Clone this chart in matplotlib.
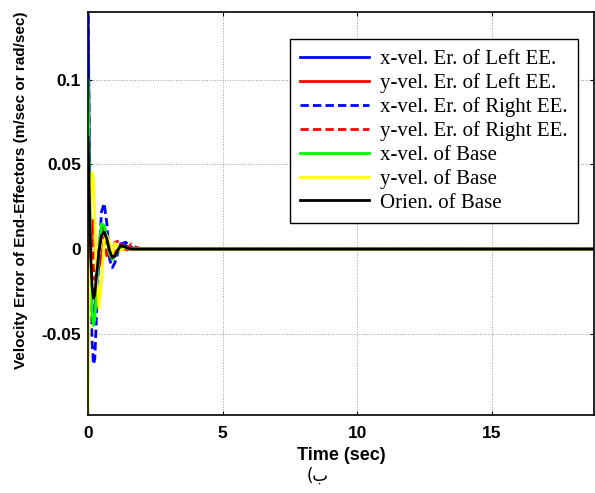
import numpy as np
import matplotlib
matplotlib.use("Agg")
import matplotlib.pyplot as plt

# time samples of the transient (sec); after ~2 s everything sits at zero
t = [0, 0.05, 0.1, 0.15, 0.2, 0.25, 0.3, 0.4, 0.5, 0.6, 0.7, 0.8, 0.9, 1.0,
     1.2, 1.4, 1.6, 1.8, 2.0, 18.8]

x_left = [0.145, 0.05, -0.015, -0.035, -0.04, -0.036, -0.025, -0.002, 0.012, 0.013,
          0.007, -0.003, -0.006, -0.004, 0.002, 0.002, 0, 0, 0, 0]
y_left = [0, -0.012, 0.0, 0.015, 0.017, 0.008, -0.006, -0.011, -0.004, 0.005,
          0.005, 0.0, -0.003, -0.002, 0.001, 0, 0, 0, 0, 0]
x_right = [0.145, 0.06, -0.02, -0.055, -0.068, -0.065, -0.045, -0.005, 0.022, 0.027,
           0.015, -0.006, -0.011, -0.008, 0.003, 0.004, 0.001, 0, 0, 0]
y_right = [0, 0.01, 0.014, 0.005, -0.01, -0.018, -0.015, 0.002, 0.012, 0.006,
           -0.004, -0.006, -0.002, 0.004, 0.005, -0.002, 0.003, 0.001, 0, 0]
x_base = [0.1, 0.04, -0.015, -0.038, -0.045, -0.042, -0.028, -0.002, 0.015, 0.014,
          0.006, -0.003, -0.006, -0.004, 0.001, 0.001, 0, 0, 0, 0]
y_base = [-0.097, -0.02, 0.03, 0.045, 0.042, 0.02, -0.01, -0.035, -0.02, 0.005,
          0.008, 0.004, -0.003, 0.0035, -0.001, 0.001, 0, 0, 0, 0]
orien = [0.066, 0.03, -0.005, -0.022, -0.029, -0.027, -0.018, -0.002, 0.008, 0.010,
         0.006, -0.001, -0.005, -0.004, 0.002, 0.001, 0, 0, 0, 0]

labels = ["x-vel. Er. of Left EE.", "y-vel. Er. of Left EE.",
          "x-vel. Er. of Right EE.", "y-vel. Er. of Right EE.",
          "x-vel. of Base", "y-vel. of Base", "Orien. of Base"]

fig = plt.figure(figsize=(5.95, 4.93), dpi=100)
ax = fig.add_axes([0.148, 0.158, 0.85, 0.818])

ax.plot(t, x_left, color=(0, 0, 1), lw=2, label=labels[0])
ax.plot(t, y_left, color=(1, 0, 0), lw=2, label=labels[1])
ax.plot(t, x_right, color=(0, 0, 1), lw=2, ls=(0, (3, 1.5)), label=labels[2])
ax.plot(t, y_right, color=(1, 0, 0), lw=2, ls=(0, (3, 1.5)), label=labels[3])
ax.plot(t, x_base, color=(0, 1, 0), lw=2, label=labels[4])
ax.plot(t, y_base, color=(1, 1, 0), lw=2, label=labels[5])
ax.plot(t, orien, color="black", lw=2, label=labels[6])

ax.set_xlim(0, 18.8)
ax.set_ylim(-0.098, 0.14)
ax.set_xticks([0, 5, 10, 15])
ax.set_yticks([-0.05, 0, 0.05, 0.1])
ax.set_yticklabels(["-0.05", "0", "0.05", "0.1"])
ax.grid(True, ls=":", color="#999999", lw=0.7)
ax.tick_params(direction="in", top=True, right=True, length=3)
ax.tick_params(axis="x", pad=8)
ax.tick_params(axis="y", pad=5)
for lab in ax.get_xticklabels() + ax.get_yticklabels():
    lab.set_fontfamily("Liberation Sans")
    lab.set_fontweight("bold")
    lab.set_fontsize(12.5)
for sp in ax.spines.values():
    sp.set_linewidth(1.2)

ax.set_ylabel("Velocity Error of End-Effectors (m/sec or rad/sec)",
              fontfamily="Liberation Sans", fontweight="bold", fontsize=11)
ax.yaxis.set_label_coords(-0.119, 0.558)
ax.set_xlabel("Time (sec)", fontfamily="Liberation Sans", fontweight="bold",
              fontsize=13)
ax.xaxis.set_label_coords(0.5, -0.079)
fig.text(0.533, 0.036, "(ب", ha="center", va="center",
         family=["DejaVu Sans"], fontsize=12)

leg = ax.legend(loc="upper right", bbox_to_anchor=(0.968, 0.933),
                prop={"family": "Liberation Serif", "size": 15},
                fancybox=False, edgecolor="black", framealpha=1,
                handlelength=3.3, handletextpad=0.5, labelspacing=0.2,
                borderpad=0.5, borderaxespad=0)
leg.get_frame().set_linewidth(1)

fig.savefig("out.png", dpi=100)
